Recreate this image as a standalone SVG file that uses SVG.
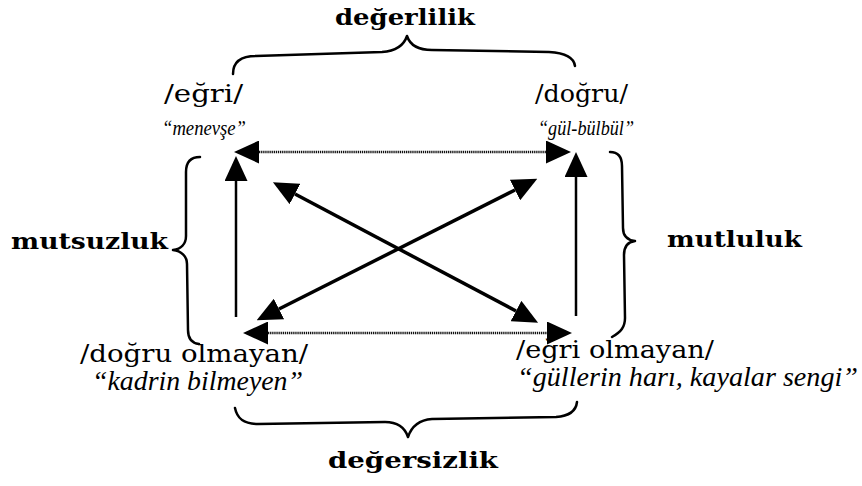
<svg xmlns="http://www.w3.org/2000/svg" width="862" height="486" viewBox="0 0 862 486">
<style>
.bold{font-family:"DejaVu Serif","Liberation Serif",serif;font-weight:bold;font-size:23px;fill:#000}
.reg{font-family:"DejaVu Serif","Liberation Serif",serif;font-size:24px;fill:#000}
.it{font-family:"Liberation Serif","DejaVu Serif",serif;font-style:italic;fill:#000}
.brace{fill:none;stroke:#000;stroke-width:2.5;stroke-linecap:round;stroke-linejoin:round}
.dot{stroke:#111;stroke-width:2.6;stroke-dasharray:1.3 0.8;fill:none}
.vert{stroke:#000;stroke-width:2.5;fill:none}
.diag{stroke:#000;stroke-width:3.5;fill:none}
</style>
<defs>
<marker id="ah" markerUnits="userSpaceOnUse" markerWidth="25" markerHeight="23" viewBox="0 0 25 23" refX="0" refY="11.5" orient="auto-start-reverse">
<path d="M0,0 L25,11.5 L0,23 z" fill="#000"/>
</marker>
</defs>
<rect width="862" height="486" fill="#fff"/>

<g id="braces">
<path class="brace" d="M233,74 C233,62 241,56 256,56 L382,52 C397,51 404,45 407,36 C410,45 417,50 432,50 L549,52 C566,53 574,58 575,66"/>
<path class="brace" d="M200,157 C191,157 186,162 186,172 L186,236 C186,244 181,249 173,250 C181,251 187,256 187,264 L188,330 C188,338 191,343 199,344"/>
<path class="brace" d="M610,152 C618,152 622,157 622,166 L623,228 C623,236 627,240 635,241 C627,242 624,247 624,255 L625,318 C625,327 621,332 612,337"/>
<path class="brace" d="M235,408 C237,418 243,424 258,424 L385,422 C398,422 405,428 408,437 C411,428 418,420 432,419 L556,417 C570,416 576,411 577,402"/>
</g>

<g id="connectors">
<line class="dot" x1="259" y1="152" x2="546" y2="152" marker-start="url(#ah)" marker-end="url(#ah)"/>
<line class="dot" x1="268" y1="333" x2="547" y2="333" marker-start="url(#ah)" marker-end="url(#ah)"/>
<line class="vert" x1="236" y1="317" x2="236" y2="181" marker-end="url(#ah)"/>
<line class="vert" x1="576" y1="316" x2="576" y2="177" marker-end="url(#ah)"/>
<line class="diag" x1="279" y1="309" x2="515" y2="190" marker-start="url(#ah)" marker-end="url(#ah)"/>
<line class="diag" x1="295" y1="194" x2="516" y2="311" marker-start="url(#ah)" marker-end="url(#ah)"/>
</g>

<g id="label-degerlilik"><text class="bold" x="335" y="25" textLength="140" lengthAdjust="spacingAndGlyphs">değerlilik</text></g>
<g id="label-mutsuzluk"><text class="bold" x="11" y="249" textLength="157" lengthAdjust="spacingAndGlyphs">mutsuzluk</text></g>
<g id="label-mutluluk"><text class="bold" x="667" y="247" textLength="135" lengthAdjust="spacingAndGlyphs">mutluluk</text></g>
<g id="label-degersizlik"><text class="bold" x="328" y="468" textLength="170" lengthAdjust="spacingAndGlyphs">değersizlik</text></g>

<g id="node-egri">
<text class="reg" x="164" y="102" textLength="79" lengthAdjust="spacingAndGlyphs">/eğri/</text>
<text class="it" x="162" y="135" font-size="22" textLength="84" lengthAdjust="spacingAndGlyphs">“menevşe”</text>
</g>
<g id="node-dogru">
<text class="reg" x="535" y="102" textLength="93" lengthAdjust="spacingAndGlyphs">/doğru/</text>
<text class="it" x="538" y="135" font-size="22" textLength="96" lengthAdjust="spacingAndGlyphs">“gül-bülbül”</text>
</g>
<g id="node-dogru-olmayan">
<text class="reg" x="80" y="362" textLength="228" lengthAdjust="spacingAndGlyphs">/doğru olmayan/</text>
<text class="it" x="92" y="390" font-size="27" textLength="211" lengthAdjust="spacingAndGlyphs">“kadrin bilmeyen”</text>
</g>
<g id="node-egri-olmayan">
<text class="reg" x="516" y="358" textLength="198" lengthAdjust="spacingAndGlyphs">/eğri olmayan/</text>
<text class="it" x="517" y="386" font-size="27" textLength="341" lengthAdjust="spacingAndGlyphs">“güllerin harı, kayalar sengi”</text>
</g>
</svg>
